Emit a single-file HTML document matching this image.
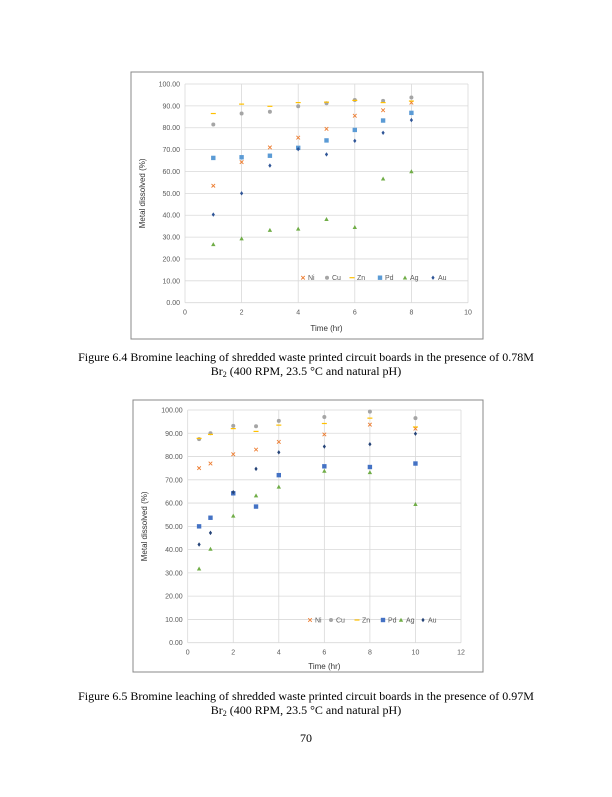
<!DOCTYPE html><html><head><meta charset="utf-8"><style>
body{margin:0;background:#fff}
svg text{font-family:"Liberation Sans",sans-serif}
.cap{font-family:"Liberation Serif",serif;font-size:12px;fill:#000}
</style></head><body>
<svg id="s" width="612" height="792" xmlns="http://www.w3.org/2000/svg">
<rect width="612" height="792" fill="#fff"/>
<text class="cap" x="306" y="361" text-anchor="middle">Figure 6.4 Bromine leaching of shredded waste printed circuit boards in the presence of 0.78M</text>
<text class="cap" x="306" y="375" text-anchor="middle">Br<tspan font-size="8" dy="2">2</tspan><tspan dy="-2"> (400 RPM, 23.5 °C and natural pH)</tspan></text>
<text class="cap" x="306" y="700" text-anchor="middle">Figure 6.5 Bromine leaching of shredded waste printed circuit boards in the presence of 0.97M</text>
<text class="cap" x="306" y="714" text-anchor="middle">Br<tspan font-size="8" dy="2">2</tspan><tspan dy="-2"> (400 RPM, 23.5 °C and natural pH)</tspan></text>
<text class="cap" x="306" y="742" text-anchor="middle">70</text>
</svg>
<script>
var s=document.getElementById('s'),h='';
function mk(n,x,y,col){
 if(n=='Ni')return '<path d="M'+(x-1.8)+' '+(y-1.8)+'L'+(x+1.8)+' '+(y+1.8)+'M'+(x-1.8)+' '+(y+1.8)+'L'+(x+1.8)+' '+(y-1.8)+'" stroke="'+col+'" stroke-width="0.9"/>';
 if(n=='Cu')return '<circle cx="'+x+'" cy="'+y+'" r="2" fill="'+col+'"/>';
 if(n=='Zn')return '<rect x="'+(x-2.5)+'" y="'+(y-0.6)+'" width="5" height="1.2" fill="'+col+'"/>';
 if(n=='Pd')return '<rect x="'+(x-2.2)+'" y="'+(y-2.2)+'" width="4.4" height="4.4" fill="'+col+'"/>';
 if(n=='Ag')return '<path d="M'+x+' '+(y-2.2)+'L'+(x+2.2)+' '+(y+1.8)+'L'+(x-2.2)+' '+(y+1.8)+'Z" fill="'+col+'"/>';
 return '<path d="M'+x+' '+(y-2.2)+'L'+(x+1.6)+' '+y+'L'+x+' '+(y+2.2)+'L'+(x-1.6)+' '+y+'Z" fill="'+col+'"/>';
}
function chart(c){
 h+='<rect x="'+c.fx0+'" y="'+c.fy0+'" width="'+(c.fx1-c.fx0)+'" height="'+(c.fy1-c.fy0)+'" fill="#fff" stroke="#888" stroke-width="1"/>';
 var X=function(v){return c.x0+(c.x1-c.x0)*v/c.xm},Y=function(v){return c.y0+(c.y1-c.y0)*v/100};
 for(var i=0;i<=10;i++){var y=Y(i*10);h+='<line x1="'+c.x0+'" x2="'+c.x1+'" y1="'+y+'" y2="'+y+'" stroke="#d9d9d9" stroke-width="0.8"/>';
  h+='<text x="'+(c.x0-5)+'" y="'+(y+2.5)+'" font-size="7" fill="#595959" text-anchor="end">'+(i*10).toFixed(2)+'</text>';}
 for(var j=0;j<=c.xm;j+=2){var x=X(j);h+='<line x1="'+x+'" x2="'+x+'" y1="'+c.y0+'" y2="'+c.y1+'" stroke="#d9d9d9" stroke-width="0.8"/>';
  h+='<text x="'+x+'" y="'+(c.y0+12)+'" font-size="7" fill="#595959" text-anchor="middle">'+j+'</text>';}
 h+='<text x="'+((c.x0+c.x1)/2)+'" y="'+c.tY+'" font-size="8" fill="#333" text-anchor="middle">Time (hr)</text>';
 h+='<text transform="translate('+(c.fx0+14)+','+((c.y0+c.y1)/2)+') rotate(-90)" font-size="8" fill="#333" text-anchor="middle">Metal dissolved (%)</text>';
 var names=['Ni','Cu','Zn','Pd','Ag','Au'];
 names.forEach(function(n,k){c.d[k].forEach(function(v,i){h+=mk(n,X(c.xs[i]),Y(v),c.col[k])});
  h+=mk(n,c.lx[k],c.ly,c.col[k]);h+='<text x="'+(c.lx[k]+5)+'" y="'+(c.ly+2.5)+'" font-size="7" fill="#595959">'+n+'</text>';});
}
chart({fx0:131,fy0:72,fx1:483,fy1:339,x0:185,x1:468,y0:302.7,y1:84,xm:10,tY:331,
 xs:[1,2,3,4,5,6,7,8],col:['#ED7D31','#A5A5A5','#FFC000','#5B9BD5','#70AD47','#2F5597'],
 lx:[303,327,352,380,405,433],ly:277.7,
 d:[[53.5,64.3,71,75.5,79.5,85.5,88,91.5],[81.5,86.5,87.3,89.8,91.2,92.7,92.3,93.8],[86.5,90.8,89.8,91.5,91.7,92.5,91.5,92.2],[66.2,66.5,67.2,70.8,74.2,79,83.3,86.8],[26.7,29.3,33.2,33.8,38.2,34.5,56.7,60],[40.3,50,62.7,70.2,67.8,74,77.7,83.5]]});
chart({fx0:133,fy0:400,fx1:483,fy1:672,x0:187.7,x1:461,y0:642.7,y1:410,xm:12,tY:669,
 xs:[0.5,1,2,3,4,6,8,10],col:['#ED7D31','#A5A5A5','#FFC000','#4472C4','#70AD47','#264478'],
 lx:[310,331,357,383,401,423],ly:620,
 d:[[75,77,81,83,86.3,89.5,93.7,92],[87.5,90,93.2,93,95.3,97,99.3,96.5],[87.8,89.5,92,90.8,93.5,94.2,96.5,92.7],[50,53.7,64.2,58.5,72,75.8,75.5,77],[31.8,40.3,54.5,63.2,67,73.8,73.2,59.5],[42.2,47.2,64.7,74.7,81.8,84.3,85.3,89.8]]});
s.insertAdjacentHTML('beforeend',h);
</script>
</body></html>
